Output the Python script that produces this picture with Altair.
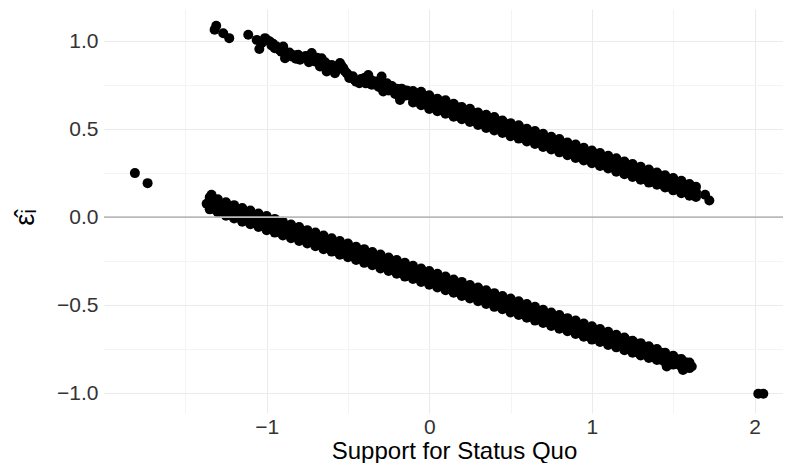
import altair as alt
import pandas as pd

# ---- data ----
# upper band (observations with y = 1), sparse left part
upper_sparse_x = [-1.31, -1.32, -1.267, -1.23, -1.113, -1.061, -1.045, -1.03, -1.01, -0.995,
                  -0.98, -0.97, -0.96, -0.95, -0.938, -0.92, -0.91, -0.898, -0.887, -0.875,
                  -0.86, -0.846, -0.83, -0.82, -0.806, -0.795, -0.78, -0.76, -0.75, -0.74,
                  -0.723, -0.715, -0.703, -0.69, -0.68, -0.672, -0.662, -0.65, -0.64, -0.631,
                  -0.62, -0.61, -0.600, -0.59, -0.58, -0.57, -0.565, -0.549, -0.54, -0.529,
                  -0.52, -0.51, -0.50, -0.492, -0.47, -0.46, -0.45, -0.430, -0.42, -0.40,
                  -0.39, -0.375, -0.36, -0.354, -0.34, -0.33, -0.32, -0.31, -0.303, -0.293,
                  -0.283, -0.27, -0.26, -0.25, -0.242, -0.23, -0.22, -0.21, -0.20, -0.191,
                  -0.18, -0.17, -0.16, -0.15, -0.14, -0.13, -0.12]
upper_sparse_r = [1.087, 1.065, 1.045, 1.017, 1.036, 1.007, 0.955, 0.990, 1.017, 1.005,
                  0.998, 0.975, 0.985, 0.960, 0.969, 0.950, 0.940, 0.969, 0.903, 0.925,
                  0.935, 0.913, 0.920, 0.900, 0.922, 0.894, 0.905, 0.915, 0.900, 0.880,
                  0.932, 0.905, 0.884, 0.905, 0.880, 0.856, 0.903, 0.865, 0.880, 0.827,
                  0.855, 0.840, 0.865, 0.840, 0.818, 0.835, 0.850, 0.875, 0.860, 0.847,
                  0.830, 0.820, 0.810, 0.790, 0.800, 0.780, 0.770, 0.761, 0.785, 0.790,
                  0.760, 0.808, 0.780, 0.752, 0.755, 0.770, 0.750, 0.740, 0.751, 0.799,
                  0.714, 0.735, 0.760, 0.720, 0.742, 0.745, 0.720, 0.700, 0.730, 0.695,
                  0.666, 0.730, 0.700, 0.690, 0.720, 0.715, 0.690]

# upper band, dense part: x positions with top / middle / bottom residuals
upper_x = [-0.10, -0.05, 0.00, 0.05, 0.10, 0.15, 0.20, 0.25, 0.30, 0.35, 0.40, 0.45,
           0.50, 0.55, 0.60, 0.65, 0.70, 0.75, 0.80, 0.85, 0.90, 0.95, 1.00, 1.05,
           1.10, 1.15, 1.20, 1.25, 1.30, 1.35, 1.40, 1.45, 1.50, 1.55, 1.60, 1.64]
upper_top = [0.716, 0.712, 0.692, 0.672, 0.664, 0.644, 0.626, 0.616, 0.594, 0.582, 0.569, 0.549,
             0.534, 0.522, 0.502, 0.489, 0.474, 0.456, 0.444, 0.424, 0.412, 0.394, 0.379, 0.364,
             0.348, 0.334, 0.316, 0.302, 0.286, 0.270, 0.254, 0.238, 0.222, 0.206, 0.188, 0.172]
upper_mid = [0.680, 0.672, 0.650, 0.642, 0.620, 0.610, 0.590, 0.578, 0.558, 0.548, 0.530, 0.512,
             0.500, 0.480, 0.470, 0.450, 0.438, 0.418, 0.406, 0.388, 0.375, 0.356, 0.344, 0.325,
             0.312, 0.294, 0.282, 0.262, 0.250, 0.232, 0.218, 0.200, 0.188, 0.170, 0.156, 0.142]
upper_bot = [0.651, 0.636, 0.614, 0.602, 0.588, 0.570, 0.556, 0.540, 0.524, 0.506, 0.492, 0.478,
             0.460, 0.446, 0.430, 0.416, 0.398, 0.384, 0.368, 0.352, 0.336, 0.322, 0.306, 0.290,
             0.276, 0.258, 0.244, 0.228, 0.212, 0.196, 0.184, 0.168, 0.152, 0.136, 0.122, 0.114]
upper_x2 = [-0.075, -0.025, 0.025, 0.075, 0.125, 0.175, 0.225, 0.275, 0.325, 0.375,
            0.425, 0.475, 0.525, 0.575, 0.625, 0.675, 0.725, 0.775, 0.825, 0.875,
            0.925, 0.975, 1.025, 1.075, 1.125, 1.175, 1.225, 1.275, 1.325, 1.375,
            1.425, 1.475, 1.525, 1.575, 1.62]
upper_top2 = [0.702, 0.688, 0.668, 0.655, 0.638, 0.624, 0.606, 0.592, 0.575, 0.560,
              0.545, 0.528, 0.512, 0.498, 0.482, 0.466, 0.450, 0.436, 0.420, 0.404,
              0.388, 0.372, 0.358, 0.340, 0.326, 0.310, 0.294, 0.280, 0.262, 0.248,
              0.232, 0.216, 0.200, 0.184, 0.170]
upper_mid2 = [0.678, 0.664, 0.646, 0.630, 0.616, 0.600, 0.584, 0.570, 0.552, 0.538,
              0.522, 0.506, 0.490, 0.476, 0.460, 0.444, 0.428, 0.412, 0.398, 0.382,
              0.366, 0.350, 0.334, 0.318, 0.304, 0.288, 0.272, 0.256, 0.240, 0.226,
              0.210, 0.194, 0.178, 0.162, 0.150]
upper_bot2 = [0.655, 0.640, 0.625, 0.608, 0.594, 0.578, 0.562, 0.546, 0.530, 0.516,
              0.500, 0.484, 0.468, 0.452, 0.438, 0.422, 0.406, 0.390, 0.375, 0.360,
              0.344, 0.328, 0.312, 0.297, 0.282, 0.266, 0.250, 0.235, 0.220, 0.204,
              0.188, 0.172, 0.158, 0.142, 0.128]

# lower band (observations with y = 0)
lower_x = [-1.35, -1.30, -1.25, -1.20, -1.15, -1.10, -1.05, -1.00, -0.95, -0.90,
           -0.85, -0.80, -0.75, -0.70, -0.65, -0.60, -0.55, -0.50, -0.45, -0.40,
           -0.35, -0.30, -0.25, -0.20, -0.15, -0.10, -0.05, 0.00, 0.05, 0.10,
           0.15, 0.20, 0.25, 0.30, 0.35, 0.40, 0.45, 0.50, 0.55, 0.60,
           0.65, 0.70, 0.75, 0.80, 0.85, 0.90, 0.95, 1.00, 1.05, 1.10,
           1.15, 1.20, 1.25, 1.30, 1.35, 1.40, 1.45, 1.50, 1.55, 1.60]
lower_top = [0.112, 0.102, 0.084, 0.068, 0.052, 0.038, 0.020, 0.006, -0.010, -0.026,
             -0.042, -0.056, -0.074, -0.088, -0.104, -0.120, -0.136, -0.150, -0.168, -0.182,
             -0.198, -0.212, -0.230, -0.244, -0.260, -0.276, -0.292, -0.306, -0.322, -0.338,
             -0.354, -0.368, -0.386, -0.400, -0.416, -0.432, -0.448, -0.462, -0.478, -0.494,
             -0.510, -0.526, -0.542, -0.556, -0.574, -0.588, -0.604, -0.620, -0.636, -0.652,
             -0.668, -0.684, -0.702, -0.716, -0.734, -0.750, -0.770, -0.788, -0.806, -0.826]
lower_mid = [0.078, 0.062, 0.046, 0.030, 0.014, -0.004, -0.016, -0.034, -0.050, -0.064,
             -0.082, -0.094, -0.112, -0.128, -0.142, -0.160, -0.172, -0.190, -0.206, -0.220,
             -0.238, -0.250, -0.268, -0.284, -0.298, -0.316, -0.330, -0.346, -0.362, -0.376,
             -0.394, -0.408, -0.422, -0.440, -0.456, -0.470, -0.488, -0.500, -0.518, -0.534,
             -0.548, -0.566, -0.578, -0.596, -0.610, -0.628, -0.642, -0.656, -0.674, -0.688,
             -0.706, -0.720, -0.734, -0.752, -0.766, -0.784, -0.798, -0.812, -0.830, -0.844]
lower_bot = [0.044, 0.026, 0.008, -0.008, -0.026, -0.040, -0.056, -0.074, -0.088, -0.104,
             -0.120, -0.136, -0.150, -0.166, -0.182, -0.196, -0.214, -0.228, -0.244, -0.260,
             -0.274, -0.292, -0.306, -0.322, -0.338, -0.352, -0.368, -0.384, -0.400, -0.416,
             -0.430, -0.448, -0.462, -0.478, -0.494, -0.510, -0.524, -0.542, -0.556, -0.572,
             -0.588, -0.602, -0.618, -0.634, -0.648, -0.664, -0.680, -0.696, -0.710, -0.726,
             -0.740, -0.756, -0.770, -0.786, -0.800, -0.812, -0.824, -0.838, -0.850, -0.858]
lower_x2 = [-1.325, -1.275, -1.225, -1.175, -1.125, -1.075, -1.025, -0.975, -0.925, -0.875,
            -0.825, -0.775, -0.725, -0.675, -0.625, -0.575, -0.525, -0.475, -0.425, -0.375,
            -0.325, -0.275, -0.225, -0.175, -0.125, -0.075, -0.025, 0.025, 0.075, 0.125,
            0.175, 0.225, 0.275, 0.325, 0.375, 0.425, 0.475, 0.525, 0.575, 0.625,
            0.675, 0.725, 0.775, 0.825, 0.875, 0.925, 0.975, 1.025, 1.075, 1.125,
            1.175, 1.225, 1.275, 1.325, 1.375, 1.425, 1.475, 1.525, 1.575]
lower_top2 = [0.092, 0.075, 0.060, 0.044, 0.028, 0.012, -0.004, -0.018, -0.034, -0.050,
              -0.066, -0.082, -0.096, -0.112, -0.128, -0.144, -0.160, -0.174, -0.190, -0.206,
              -0.222, -0.238, -0.252, -0.268, -0.284, -0.300, -0.316, -0.330, -0.346, -0.362,
              -0.378, -0.394, -0.408, -0.424, -0.440, -0.456, -0.472, -0.486, -0.502, -0.518,
              -0.534, -0.550, -0.564, -0.580, -0.596, -0.612, -0.628, -0.642, -0.658, -0.674,
              -0.690, -0.706, -0.720, -0.736, -0.754, -0.770, -0.792, -0.808, -0.824]
lower_mid2 = [0.068, 0.052, 0.037, 0.021, 0.005, -0.010, -0.026, -0.041, -0.057, -0.073,
              -0.088, -0.104, -0.119, -0.135, -0.151, -0.166, -0.182, -0.197, -0.213, -0.229,
              -0.244, -0.260, -0.275, -0.291, -0.307, -0.322, -0.338, -0.353, -0.369, -0.385,
              -0.400, -0.416, -0.431, -0.447, -0.463, -0.478, -0.494, -0.509, -0.525, -0.541,
              -0.556, -0.572, -0.587, -0.603, -0.619, -0.634, -0.650, -0.665, -0.681, -0.697,
              -0.712, -0.728, -0.743, -0.759, -0.775, -0.790, -0.806, -0.821, -0.837]
lower_bot2 = [0.046, 0.030, 0.014, -0.002, -0.018, -0.032, -0.048, -0.064, -0.080, -0.094,
              -0.110, -0.126, -0.142, -0.158, -0.172, -0.188, -0.204, -0.220, -0.236, -0.250,
              -0.266, -0.282, -0.298, -0.314, -0.328, -0.344, -0.360, -0.376, -0.392, -0.406,
              -0.422, -0.438, -0.454, -0.470, -0.484, -0.500, -0.516, -0.530, -0.546, -0.562,
              -0.578, -0.594, -0.608, -0.624, -0.640, -0.656, -0.672, -0.688, -0.702, -0.718,
              -0.734, -0.750, -0.766, -0.780, -0.796, -0.810, -0.822, -0.834, -0.848]

# isolated points
extra_x = [-1.369, -1.339, 1.46, 1.56, 1.614, 1.696, 1.722, -1.81, -1.732, 2.023, 2.054]
extra_r = [0.076, 0.127, -0.849, -0.868, -0.849, 0.127, 0.094, 0.25, 0.193, -1.004, -1.004]

x_ticks = [-1.5, -1, -0.5, 0, 0.5, 1, 1.5, 2]
y_ticks = [-1, -0.75, -0.5, -0.25, 0, 0.25, 0.5, 0.75, 1]

xs, rs = [], []
xs += upper_sparse_x; rs += upper_sparse_r
for col in (upper_top, upper_mid, upper_bot):
    xs += upper_x; rs += col
for col in (upper_top2, upper_mid2, upper_bot2):
    xs += upper_x2; rs += col
for col in (lower_top, lower_mid, lower_bot):
    xs += lower_x; rs += col
for col in (lower_top2, lower_mid2, lower_bot2):
    xs += lower_x2; rs += col
xs += extra_x; rs += extra_r
df = pd.DataFrame({"x": xs, "r": rs})

x_grid_color = {"condition": {"test": "abs(datum.value % 1) < 0.001", "value": "#ebebeb"},
                "value": "#f4f4f4"}
y_grid_color = {"condition": {"test": "abs(datum.value % 0.5) < 0.001", "value": "#ebebeb"},
                "value": "#f4f4f4"}

points = alt.Chart(df).mark_circle(size=100, color="black", opacity=1).encode(
    x=alt.X("x:Q",
            scale=alt.Scale(domain=[-2.0, 2.175], nice=False, zero=False),
            axis=alt.Axis(values=x_ticks,
                          labelExpr="abs(datum.value % 1) < 0.001 ? format(datum.value, 'd') : ''",
                          title="Support for Status Quo",
                          grid=True, gridColor=x_grid_color, gridWidth=1.1,
                          ticks=False, domain=False, labelOverlap=False,
                          labelFontSize=21, labelColor="#333333", labelPadding=3,
                          titleFontSize=24, titleFontWeight="normal", titleColor="black",
                          titleX=350, titleY=45, titleAlign="center", titleBaseline="alphabetic")),
    y=alt.Y("r:Q",
            scale=alt.Scale(domain=[-1.113, 1.1825], nice=False, zero=False),
            axis=alt.Axis(values=y_ticks,
                          labelExpr="abs(datum.value % 0.5) < 0.001 ? format(datum.value, '.1f') : ''",
                          title="\u03b5\u0302\u1d62",
                          grid=True, gridColor=y_grid_color, gridWidth=1.1,
                          ticks=False, domain=False, labelOverlap=False,
                          labelFontSize=21, labelColor="#333333", labelPadding=6,
                          titleFontSize=27, titleFontWeight="normal", titleColor="black",
                          titleAngle=270, titleX=-71, titleY=208, titleAlign="center",
                          titleBaseline="alphabetic")),
)

zero_line = alt.Chart(pd.DataFrame({"r": [0]})).mark_rule(color="#bababa", strokeWidth=1.6).encode(
    y="r:Q"
)

chart = alt.layer(points, zero_line).properties(
    width=679, height=404,
    padding={"left": 96, "top": 1, "right": 0, "bottom": 50},
    autosize=alt.AutoSizeParams(type="none"),
).configure(font="Liberation Sans").configure_view(stroke=None)

chart.save("out.html", embed_options={"renderer": "svg", "actions": False})
